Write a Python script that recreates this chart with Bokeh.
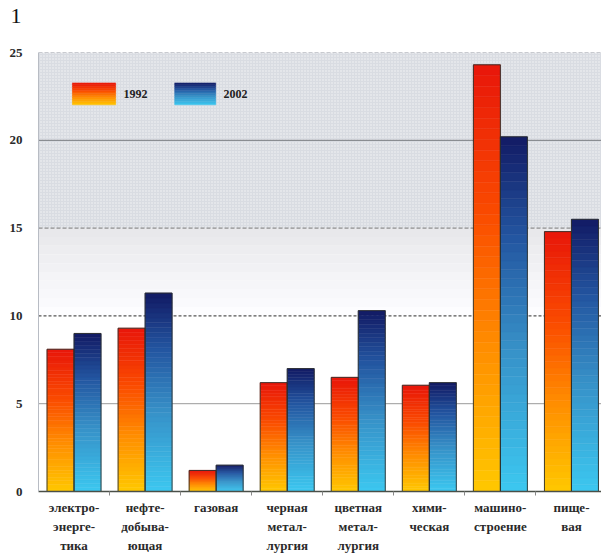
import numpy as np
from bokeh.plotting import figure
from bokeh.models import ColumnDataSource, Range1d, FixedTicker
from bokeh.embed import file_html
from bokeh.resources import INLINE
from bokeh.core.properties import value

# ---- data ----
categories = ["электро-\nэнерге-\nтика", "нефте-\nдобыва-\nющая", "газовая",
              "черная\nметал-\nлургия", "цветная\nметал-\nлургия", "хими-\nческая",
              "машино-\nстроение", "пище-\nвая"]
years = ["1992", "2002"]
v1992 = [8.1, 9.3, 1.2, 6.2, 6.5, 6.05, 24.3, 14.8]
v2002 = [9.0, 11.3, 1.5, 7.0, 10.3, 6.2, 20.2, 15.5]
y_ticks = [0, 5, 10, 15, 20, 25]
chart_number = "1"

# ---- styles ----
stops_1992 = [(0.0, (255, 200, 0)), (0.35, (255, 140, 0)), (0.65, (250, 75, 0)), (1.0, (232, 22, 10))]
stops_2002 = [(0.0, (60, 200, 240)), (0.4, (55, 145, 200)), (0.72, (35, 85, 160)), (1.0, (18, 26, 100))]
BAR_W = 0.38
NSEG = 40
SERIF = value("Liberation Serif")


def grad(stops, t):
    for (p0, c0), (p1, c1) in zip(stops[:-1], stops[1:]):
        if t <= p1:
            f = (t - p0) / (p1 - p0) if p1 > p0 else 0
            c = [int(round(a + (b - a) * f)) for a, b in zip(c0, c1)]
            return "#%02x%02x%02x" % tuple(c)
    return "#%02x%02x%02x" % stops[-1][1]


n = len(categories)
centers = [i + 0.5 for i in range(n)]
X_END = 7.923

p = figure(width=601, height=555, output_backend="svg", toolbar_location=None,
           x_range=Range1d(0, X_END), y_range=Range1d(0, 25),
           min_border_left=38, min_border_right=0, min_border_top=52, min_border_bottom=63)
p.background_fill_color = "white"
p.border_fill_color = "white"
p.outline_line_color = None
p.xgrid.visible = False
p.ygrid.visible = False

# chart number "1" (an empty second line lifts it off the frame)
p.title.text = chart_number + "\n\u00a0"
p.title.text_font = "Liberation Serif"
p.title.text_font_size = "22px"
p.title.text_font_style = "normal"
p.title.text_color = "#111111"
p.title.text_line_height = 1.0
p.title.offset = -28
p.title.standoff = 0

# background bands
p.quad(left=[0], right=[8], bottom=[y_ticks[3]], top=[y_ticks[5]],
       fill_color="#d9dce2", line_color=None,
       hatch_pattern="dot", hatch_color="white", hatch_scale=3, hatch_weight=1, hatch_alpha=0.7)
nb = 10
for k in range(nb):
    lo = y_ticks[2] + (y_ticks[3] - y_ticks[2]) * k / nb
    hi = y_ticks[2] + (y_ticks[3] - y_ticks[2]) * (k + 1) / nb
    g = int(round(255 - (255 - 232) * (k + 1) / nb))
    p.quad(left=[0], right=[8], bottom=[lo], top=[hi],
           fill_color="#%02x%02x%02x" % (g, g, min(255, g + 3)), line_color=None)

# gridlines
grid_styles = {0: None,
               5: ("#9a9a9a", "solid", 1.0),
               10: ("#555555", "3 2", 1.2),
               15: ("#7a7a7a", "4 2", 1.0),
               20: ("#8a8d92", "solid", 1.2),
               25: ("#9a9ea6", "4 2", 1.0)}
for yv in y_ticks:
    st = grid_styles[yv]
    if st is None:
        continue
    p.segment(x0=[0], x1=[8], y0=[yv], y1=[yv], line_color=st[0], line_dash=st[1], line_width=st[2])

# gradient bars
seg = dict(left=[], right=[], bottom=[], top=[], color=[])
outl = dict(left=[], right=[], top=[])
for vals, stops, off in ((v1992, stops_1992, -BAR_W), (v2002, stops_2002, 0.0)):
    for c, v in zip(centers, vals):
        l, r = c + off, c + off + BAR_W
        for k in range(NSEG):
            seg["left"].append(l)
            seg["right"].append(r)
            seg["bottom"].append(v * k / NSEG)
            seg["top"].append(v * (k + 1) / NSEG)
            seg["color"].append(grad(stops, (k + 0.5) / NSEG))
        outl["left"].append(l)
        outl["right"].append(r)
        outl["top"].append(v)
p.quad(left="left", right="right", bottom="bottom", top="top", fill_color="color",
       line_color="color", line_width=0.5, source=ColumnDataSource(seg))
p.quad(left="left", right="right", bottom=0, top="top", fill_color=None,
       line_color="#2b2e2a", line_width=0.9, source=ColumnDataSource(outl))

# legend (gradient swatches)
leg_x = [(0.477, 1.086), (1.917, 2.494)]
leg_y = (22.02, 23.27)
lsrc = dict(left=[], right=[], bottom=[], top=[], color=[])
for (x0, x1), stops in zip(leg_x, (stops_1992, stops_2002)):
    for k in range(12):
        lsrc["left"].append(x0)
        lsrc["right"].append(x1)
        lsrc["bottom"].append(leg_y[0] + (leg_y[1] - leg_y[0]) * k / 12)
        lsrc["top"].append(leg_y[0] + (leg_y[1] - leg_y[0]) * (k + 1) / 12)
        lsrc["color"].append(grad(stops, (k + 0.5) / 12))
p.quad(left="left", right="right", bottom="bottom", top="top", fill_color="color",
       line_color="color", line_width=0.5, source=ColumnDataSource(lsrc))
p.text(x=[leg_x[0][1] + 0.11, leg_x[1][1] + 0.11], y=[sum(leg_y) / 2] * 2, text=years,
       text_font=SERIF, text_font_size="12px", text_font_style="bold",
       text_color="#222222", text_baseline="middle", text_align="left")

# axes
xa = p.xaxis[0]
xa.ticker = FixedTicker(ticks=centers, minor_ticks=[i for i in range(1, n)])
xa.major_label_overrides = {c: lab for c, lab in zip(centers, categories)}
xa.major_tick_out = 0
xa.major_tick_in = 0
xa.minor_tick_out = 4
xa.minor_tick_in = 0
xa.minor_tick_line_color = "#888888"
xa.axis_line_color = "#4a4f48"
xa.axis_line_width = 1.3
xa.major_label_text_font = "Liberation Serif"
xa.major_label_text_font_size = "13px"
xa.major_label_text_font_style = "bold"
xa.major_label_text_color = "#2a2a2a"
xa.major_label_text_line_height = 1.28
xa.major_label_standoff = 4

ya = p.yaxis[0]
ya.ticker = FixedTicker(ticks=y_ticks)
ya.major_tick_out = 0
ya.major_tick_in = 0
ya.minor_tick_out = 0
ya.minor_tick_in = 0
ya.axis_line_color = "#b8bcc4"
ya.major_label_text_font = "Liberation Serif"
ya.major_label_text_font_size = "13px"
ya.major_label_text_font_style = "bold"
ya.major_label_text_color = "#2a2a2a"
ya.major_label_standoff = 16

open("out.html", "w").write(file_html(p, INLINE))
